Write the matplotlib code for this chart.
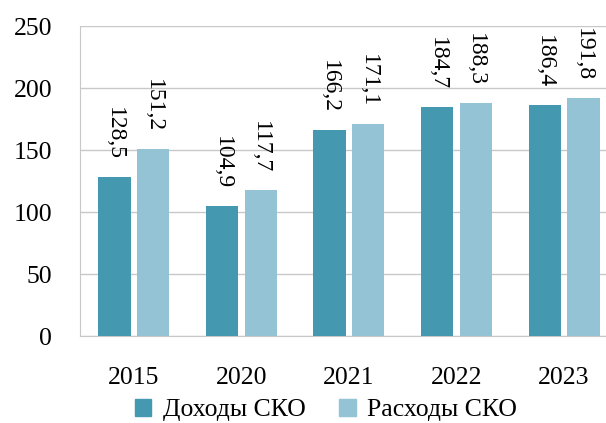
import matplotlib
matplotlib.use("Agg")
import matplotlib.pyplot as plt
import numpy as np
from matplotlib.patches import Patch

years = ["2015", "2020", "2021", "2022", "2023"]
income = [128.5, 104.9, 166.2, 184.7, 186.4]
expenses = [151.2, 117.7, 171.1, 188.3, 191.8]
series_names = ["Доходы СКО", "Расходы СКО"]
colors = ["#4498b0", "#93c3d5"]

plt.rcParams['font.family'] = ['Liberation Serif', 'DejaVu Serif']

fig = plt.figure(figsize=(6.06, 4.23), dpi=100)
ax = fig.add_axes([80/606, 1-336/423, 526/606, 310/423])

x = np.arange(len(years))
w = 0.30
off = 0.18
b1 = ax.bar(x - off, income, w, color=colors[0], zorder=3)
b2 = ax.bar(x + off, expenses, w, color=colors[1], zorder=3)

def fmt(v):
    return f"{v:.1f}".replace(".", ",")

for bars, vals in ((b1, income), (b2, expenses)):
    for r, v in zip(bars, vals):
        ax.annotate(fmt(v), (r.get_x() + r.get_width()/2, v), xytext=(0, 12),
                    textcoords="offset points", rotation=-90, ha="center", va="bottom",
                    fontsize=17)

ax.set_ylim(0, 250)
ax.set_yticks([0, 50, 100, 150, 200, 250])
ax.set_xlim(-0.5, 4.39)
ax.set_xticks(x)
ax.set_xticklabels(years)
ax.tick_params(axis="both", length=0, labelsize=18.5)
ax.tick_params(axis="x", pad=22)
ax.tick_params(axis="y", pad=20)
ax.grid(axis="y", color="#c8c8c8", linewidth=1, zorder=0)
for s in ("top", "right"):
    ax.spines[s].set_visible(False)
ax.spines["left"].set_color("#c8c8c8")
ax.spines["bottom"].set_color("#c8c8c8")

handles = [Patch(color=c, label=n) for c, n in zip(colors, series_names)]
fig.legend(handles=handles, loc="center", bbox_to_anchor=(326/606, 1-410/423), ncol=2,
           frameon=False, fontsize=18.5, handlelength=0.65, handleheight=0.65,
           handletextpad=0.45, columnspacing=1.3)

fig.savefig("out.png", dpi=100)
